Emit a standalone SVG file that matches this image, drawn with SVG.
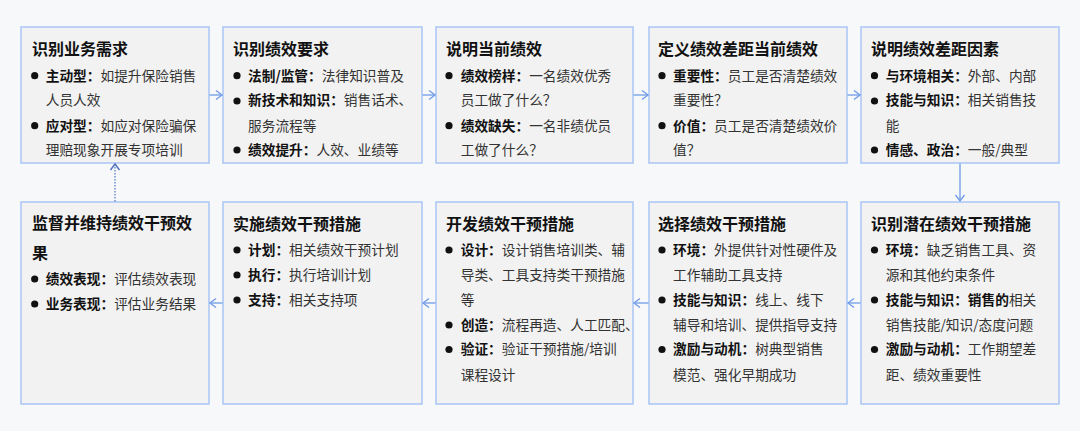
<svg xmlns="http://www.w3.org/2000/svg" width="1080" height="431" viewBox="0 0 1080 431">
<style>
.box{fill:#f2f2f2;stroke:#a9c5f5;stroke-width:1.5}
.t{font-family:"Microsoft YaHei","Noto Sans CJK SC",sans-serif;font-size:16px;font-weight:bold;fill:#111}
.b{font-family:"Microsoft YaHei","Noto Sans CJK SC",sans-serif;font-size:13.7px;fill:#333}
.k{font-weight:bold;fill:#111}
.dot{fill:#111}
.c{fill:none;stroke:#6f9be8;stroke-width:1.3}
.cd{fill:none;stroke:#5a7fc8;stroke-width:1.3;stroke-dasharray:1.5 1.5}
</style>
<defs>
<marker id="ah" viewBox="-8 -6 10 12" markerWidth="10" markerHeight="12" refX="0" refY="0" orient="auto" markerUnits="userSpaceOnUse">
<path d="M-6,-4.5 L0,0 L-6,4.5" fill="none" stroke="#6f9be8" stroke-width="1.3"/>
</marker>
<marker id="ahd" viewBox="-8 -6 10 12" markerWidth="10" markerHeight="12" refX="0" refY="0" orient="auto" markerUnits="userSpaceOnUse">
<path d="M-6,-4.5 L0,0 L-6,4.5" fill="none" stroke="#4d6fb8" stroke-width="1.4"/>
</marker>
</defs>
<rect width="1080" height="431" fill="#f7f8fa"/>

<g id="n1">
<rect class="box" x="21" y="27" width="188" height="136"/>
<text class="t" x="32" y="54.6">识别业务需求</text>
<circle class="dot" cx="34.7" cy="75.7" r="3.6"/>
<text class="b" x="45.7" y="80.5"><tspan class="k">主动型：</tspan>如提升保险销售</text>
<text class="b" x="45.7" y="105.2">人员人效</text>
<circle class="dot" cx="34.7" cy="125.7" r="3.6"/>
<text class="b" x="45.7" y="130.5"><tspan class="k">应对型：</tspan>如应对保险骗保</text>
<text class="b" x="45.7" y="155">理赔现象开展专项培训</text>
</g>

<g id="n2">
<rect class="box" x="223" y="27" width="199" height="136"/>
<text class="t" x="233" y="54.6">识别绩效要求</text>
<circle class="dot" cx="237" cy="75.7" r="3.6"/>
<text class="b" x="248" y="80.5"><tspan class="k">法制/监管：</tspan>法律知识普及</text>
<circle class="dot" cx="237" cy="101" r="3.6"/>
<text class="b" x="248" y="105.2"><tspan class="k">新技术和知识：</tspan>销售话术、</text>
<text class="b" x="248" y="130.5">服务流程等</text>
<circle class="dot" cx="237" cy="150" r="3.6"/>
<text class="b" x="248" y="155"><tspan class="k">绩效提升：</tspan>人效、业绩等</text>
</g>

<g id="n3">
<rect class="box" x="436" y="27" width="197" height="136"/>
<text class="t" x="446" y="54.6">说明当前绩效</text>
<circle class="dot" cx="449" cy="75.7" r="3.6"/>
<text class="b" x="460.7" y="80.5"><tspan class="k">绩效榜样：</tspan>一名绩效优秀</text>
<text class="b" x="460.7" y="105.2">员工做了什么？</text>
<circle class="dot" cx="449" cy="125.7" r="3.6"/>
<text class="b" x="460.7" y="130.5"><tspan class="k">绩效缺失：</tspan>一名非绩优员</text>
<text class="b" x="460.7" y="155">工做了什么？</text>
</g>

<g id="n4">
<rect class="box" x="649" y="27" width="198" height="136"/>
<text class="t" x="658" y="54.6">定义绩效差距当前绩效</text>
<circle class="dot" cx="662" cy="75.7" r="3.6"/>
<text class="b" x="673" y="80.5"><tspan class="k">重要性：</tspan>员工是否清楚绩效</text>
<text class="b" x="673" y="105.2">重要性？</text>
<circle class="dot" cx="662" cy="125.7" r="3.6"/>
<text class="b" x="673" y="130.5"><tspan class="k">价值：</tspan>员工是否清楚绩效价</text>
<text class="b" x="673" y="155">值？</text>
</g>

<g id="n5">
<rect class="box" x="861" y="27" width="198" height="136"/>
<text class="t" x="871" y="54.6">说明绩效差距因素</text>
<circle class="dot" cx="874.5" cy="75.7" r="3.6"/>
<text class="b" x="885.7" y="80.5"><tspan class="k">与环境相关：</tspan>外部、内部</text>
<circle class="dot" cx="874.5" cy="101" r="3.6"/>
<text class="b" x="885.7" y="105.2"><tspan class="k">技能与知识：</tspan>相关销售技</text>
<text class="b" x="885.7" y="130.5">能</text>
<circle class="dot" cx="874.5" cy="150" r="3.6"/>
<text class="b" x="885.7" y="155"><tspan class="k">情感、政治：</tspan>一般/典型</text>
</g>

<g id="n6">
<rect class="box" x="861" y="202" width="198" height="202"/>
<text class="t" x="871" y="230">识别潜在绩效干预措施</text>
<circle class="dot" cx="874.5" cy="250" r="3.6"/>
<text class="b" x="885.7" y="254.8"><tspan class="k">环境：</tspan>缺乏销售工具、资</text>
<text class="b" x="885.7" y="279.8">源和其他约束条件</text>
<circle class="dot" cx="874.5" cy="300" r="3.6"/>
<text class="b" x="885.7" y="304.8"><tspan class="k">技能与知识：销售的</tspan>相关</text>
<text class="b" x="885.7" y="329.8">销售技能/知识/态度问题</text>
<circle class="dot" cx="874.5" cy="349.5" r="3.6"/>
<text class="b" x="885.7" y="354.3"><tspan class="k">激励与动机：</tspan>工作期望差</text>
<text class="b" x="885.7" y="379.8">距、绩效重要性</text>
</g>

<g id="n7">
<rect class="box" x="649" y="202" width="198" height="202"/>
<text class="t" x="658" y="230">选择绩效干预措施</text>
<circle class="dot" cx="662" cy="250" r="3.6"/>
<text class="b" x="673" y="254.8"><tspan class="k">环境：</tspan>外提供针对性硬件及</text>
<text class="b" x="673" y="279.8">工作辅助工具支持</text>
<circle class="dot" cx="662" cy="300" r="3.6"/>
<text class="b" x="673" y="304.8"><tspan class="k">技能与知识：</tspan>线上、线下</text>
<text class="b" x="673" y="329.8">辅导和培训、提供指导支持</text>
<circle class="dot" cx="662" cy="349.5" r="3.6"/>
<text class="b" x="673" y="354.3"><tspan class="k">激励与动机：</tspan>树典型销售</text>
<text class="b" x="673" y="379.8">模范、强化早期成功</text>
</g>

<g id="n8">
<rect class="box" x="436" y="202" width="197" height="202"/>
<text class="t" x="446" y="230">开发绩效干预措施</text>
<circle class="dot" cx="449" cy="250" r="3.6"/>
<text class="b" x="460.7" y="254.8"><tspan class="k">设计：</tspan>设计销售培训类、辅</text>
<text class="b" x="460.7" y="279.8">导类、工具支持类干预措施</text>
<text class="b" x="460.7" y="304.8">等</text>
<circle class="dot" cx="449" cy="325" r="3.6"/>
<text class="b" x="460.7" y="329.8"><tspan class="k">创造：</tspan>流程再造、人工匹配、</text>
<circle class="dot" cx="449" cy="349.5" r="3.6"/>
<text class="b" x="460.7" y="354.3"><tspan class="k">验证：</tspan>验证干预措施/培训</text>
<text class="b" x="460.7" y="379.8">课程设计</text>
</g>

<g id="n9">
<rect class="box" x="223" y="202" width="199" height="202"/>
<text class="t" x="233" y="230">实施绩效干预措施</text>
<circle class="dot" cx="237" cy="250" r="3.6"/>
<text class="b" x="248" y="254.8"><tspan class="k">计划：</tspan>相关绩效干预计划</text>
<circle class="dot" cx="237" cy="275" r="3.6"/>
<text class="b" x="248" y="279.8"><tspan class="k">执行：</tspan>执行培训计划</text>
<circle class="dot" cx="237" cy="300" r="3.6"/>
<text class="b" x="248" y="304.8"><tspan class="k">支持：</tspan>相关支持项</text>
</g>

<g id="n10">
<rect class="box" x="21" y="202" width="188" height="202"/>
<text class="t" x="32" y="229">监督并维持绩效干预效</text>
<text class="t" x="32" y="259">果</text>
<circle class="dot" cx="34.7" cy="279" r="3.6"/>
<text class="b" x="45.7" y="283.8"><tspan class="k">绩效表现：</tspan>评估绩效表现</text>
<circle class="dot" cx="34.7" cy="304" r="3.6"/>
<text class="b" x="45.7" y="308.8"><tspan class="k">业务表现：</tspan>评估业务结果</text>
</g>

<g id="connectors">
<line class="c" x1="209.5" y1="95" x2="222" y2="95" marker-end="url(#ah)"/>
<line class="c" x1="422.5" y1="95" x2="435" y2="95" marker-end="url(#ah)"/>
<line class="c" x1="633.5" y1="95" x2="648" y2="95" marker-end="url(#ah)"/>
<line class="c" x1="847.5" y1="95" x2="860" y2="95" marker-end="url(#ah)"/>
<line class="c" x1="960" y1="163.5" x2="960" y2="201" marker-end="url(#ah)"/>
<line class="c" x1="860.5" y1="303" x2="848" y2="303" marker-end="url(#ah)"/>
<line class="c" x1="648.5" y1="303" x2="634" y2="303" marker-end="url(#ah)"/>
<line class="c" x1="435.5" y1="303" x2="423" y2="303" marker-end="url(#ah)"/>
<line class="c" x1="222.5" y1="303" x2="210" y2="303" marker-end="url(#ah)"/>
<line class="cd" x1="115" y1="201.5" x2="115" y2="164" marker-end="url(#ahd)"/>
</g>
</svg>
